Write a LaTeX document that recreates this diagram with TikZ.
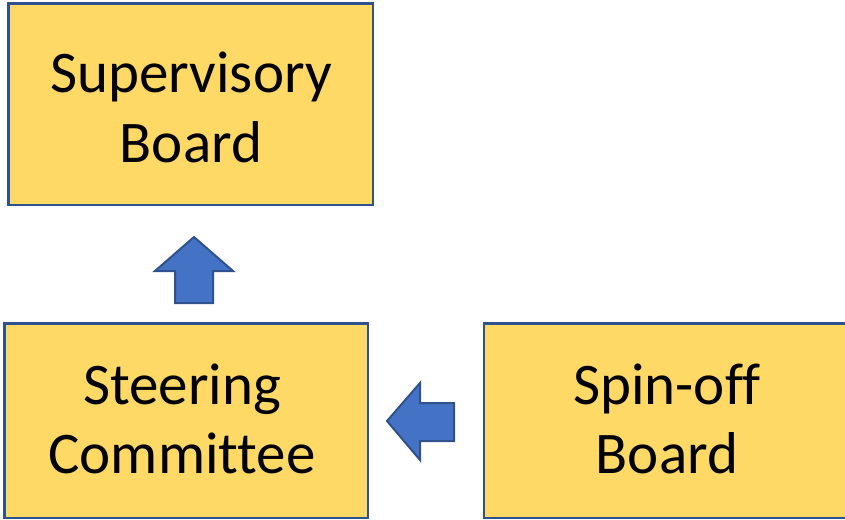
\documentclass[tikz,border=0pt]{standalone}
\usepackage{fontspec}
\setmainfont{Carlito}[Ligatures={NoCommon},RawFeature={-liga;-clig;-dlig}]
\definecolor{boxfill}{HTML}{FFD966}
\definecolor{boxline}{HTML}{2F528F}
\definecolor{arrowfill}{HTML}{4472C4}
\begin{document}
\begin{tikzpicture}[x=1pt,y=-1pt,
  box/.style={draw=boxline,fill=boxfill,line width=2.2pt},
  blockarrow/.style={draw=boxline,fill=arrowfill,line width=2pt,line join=miter},
  lbl/.style={anchor=base,inner sep=0pt,font=\fontsize{59}{70}\selectfont}]
\useasboundingbox (0,0) rectangle (845,519);
% boxes
\draw[box] (8.5,3.5) rectangle (373,205);
\draw[box] (4.5,323.5) rectangle (368,518);
\draw[box] (484,323.5) rectangle (860,518);
% labels
\node[lbl] (sup1) at (191,92) {Supervisory};
\node[lbl] (sup2) at (191,162) {Board};
\node[lbl] (ste1) at (182,404) {Steering};
\node[lbl] (ste2) at (182,473) {Committee};
\node[lbl] (spi1) at (667,404) {Spin-off};
\node[lbl] (spi2) at (667,473) {Board};
% up arrow
\draw[blockarrow] (194,237) -- (233,271) -- (213,271) -- (213,303) -- (175,303) -- (175,271) -- (155,271) -- cycle;
% left arrow
\draw[blockarrow] (387,421) -- (420,383) -- (420,403) -- (454,403) -- (454,441) -- (420,441) -- (420,460) -- cycle;
\end{tikzpicture}
\end{document}
